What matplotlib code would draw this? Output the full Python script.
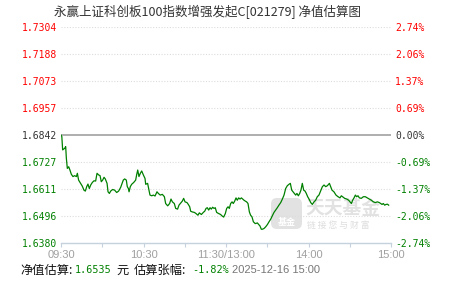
import matplotlib
matplotlib.use("Agg")
import matplotlib.pyplot as plt
from matplotlib.patches import FancyBboxPatch
from matplotlib.transforms import Affine2D

# ---------------- data ----------------
title = "永赢上证科创板100指数增强发起C[021279] 净值估算图"
base_nav = 1.6842
nav_ticks = [1.6380, 1.6496, 1.6611, 1.6727, 1.6842, 1.6957, 1.7073, 1.7188, 1.7304]
pct_labels = ["-2.74%", "-2.06%", "-1.37%", "-0.69%", "0.00%", "0.69%", "1.37%", "2.06%", "2.74%"]
time_ticks = [0, 60, 120, 180, 240]
time_minor = [30, 90, 150, 210]
time_labels = ["09:30", "10:30", "11:30/13:00", "14:00", "15:00"]

minutes = [
    0, 0.6, 1.2, 2.7, 3.4, 3.9, 4.6, 5.6, 6.5, 7.5,
    8.7, 9.9, 11.2, 11.9, 12.8, 14.3, 15.5, 16.7, 17.7, 18.7,
    19.6, 20.6, 21.6, 22.8, 24.0, 25.2, 26.2, 27.4, 28.4, 29.3,
    30.3, 31.3, 32.2, 33.5, 34.2, 35.2, 36.1, 37.6, 39.0, 40.5,
    41.9, 43.4, 44.4, 45.3, 46.3, 47.5, 48.2, 49.0, 49.5, 50.4,
    51.4, 52.9, 54.3, 55.0, 55.8, 56.7, 57.7, 58.7, 59.9, 61.1,
    61.6, 63.0, 64.0, 64.7, 66.0, 67.2, 68.4, 69.8, 70.8, 72.2,
    73.7, 75.2, 76.1, 77.6, 79.0, 80.0, 81.0, 82.4, 83.4, 84.8,
    85.8, 86.8, 88.2, 89.2, 90.2, 91.6, 92.6, 93.6, 94.3, 95.5,
    97.0, 98.2, 99.6, 100.6, 102.1, 103.5, 104.5, 105.5, 106.4, 107.4,
    108.4, 109.3, 110.3, 111.3, 112.2, 113.2, 114.7, 116.1, 117.1, 118.3,
    119.5, 120.5, 121.5, 122.4, 123.4, 124.4, 125.3, 126.3, 127.3, 128.2,
    129.2, 130.2, 131.2, 132.1, 133.1, 134.1, 135.0, 136.0, 137.0, 137.9,
    138.9, 139.9, 141.3, 142.8, 143.8, 144.7, 145.7, 146.4, 147.6, 148.8,
    150.1, 151.3, 152.5, 153.7, 154.9, 156.1, 157.3, 158.5, 159.8, 161.0,
    162.2, 163.4, 164.6, 165.8, 166.8, 167.8, 168.7, 169.7, 170.7, 171.6,
    172.6, 173.6, 174.5, 175.5, 176.5, 177.5, 178.4, 179.4, 180.4, 181.6,
    182.8, 184.0, 185.2, 186.4, 187.6, 188.8, 190.1, 191.3, 192.5, 193.7,
    195.2, 196.1, 197.1, 198.5, 200.0, 201.5, 202.9, 203.9, 204.8, 206.3,
    207.8, 209.2, 210.2, 211.2, 212.1, 213.1, 214.1, 215.0, 216.0, 217.0,
    218.4, 219.9, 221.3, 222.8, 224.2, 225.7, 227.2, 228.6, 230.1, 231.5,
    232.5, 233.5, 234.4, 235.4, 236.4, 237.4, 238.3,
]
nav = [
    1.6842, 1.6836, 1.6779, 1.6786, 1.6793, 1.6743, 1.6700, 1.6707, 1.6693, 1.6675,
    1.6665, 1.6669, 1.6665, 1.6679, 1.6650, 1.6636, 1.6624, 1.6607, 1.6603, 1.6622,
    1.6633, 1.6614, 1.6629, 1.6640, 1.6647, 1.6646, 1.6679, 1.6672, 1.6669, 1.6643,
    1.6650, 1.6662, 1.6655, 1.6636, 1.6600, 1.6593, 1.6603, 1.6610, 1.6607, 1.6597,
    1.6603, 1.6619, 1.6636, 1.6650, 1.6655, 1.6650, 1.6622, 1.6614, 1.6600, 1.6622,
    1.6632, 1.6640, 1.6650, 1.6672, 1.6693, 1.6665, 1.6679, 1.6689, 1.6672, 1.6657,
    1.6632, 1.6636, 1.6607, 1.6586, 1.6583, 1.6586, 1.6582, 1.6600, 1.6593, 1.6586,
    1.6589, 1.6579, 1.6550, 1.6540, 1.6550, 1.6569, 1.6557, 1.6550, 1.6529, 1.6526,
    1.6543, 1.6550, 1.6560, 1.6572, 1.6557, 1.6554, 1.6546, 1.6536, 1.6517, 1.6514,
    1.6512, 1.6507, 1.6500, 1.6510, 1.6503, 1.6512, 1.6517, 1.6529, 1.6532, 1.6522,
    1.6532, 1.6526, 1.6534, 1.6529, 1.6532, 1.6512, 1.6507, 1.6503, 1.6497, 1.6492,
    1.6507, 1.6529, 1.6536, 1.6529, 1.6550, 1.6557, 1.6550, 1.6560, 1.6574, 1.6564,
    1.6574, 1.6569, 1.6574, 1.6569, 1.6564, 1.6560, 1.6557, 1.6550, 1.6514, 1.6500,
    1.6493, 1.6472, 1.6464, 1.6467, 1.6460, 1.6454, 1.6440, 1.6440, 1.6443, 1.6450,
    1.6460, 1.6472, 1.6483, 1.6497, 1.6512, 1.6522, 1.6532, 1.6543, 1.6554, 1.6569,
    1.6586, 1.6614, 1.6626, 1.6632, 1.6636, 1.6607, 1.6600, 1.6593, 1.6586, 1.6593,
    1.6583, 1.6593, 1.6607, 1.6636, 1.6607, 1.6603, 1.6593, 1.6579, 1.6569, 1.6554,
    1.6546, 1.6557, 1.6564, 1.6579, 1.6586, 1.6603, 1.6622, 1.6629, 1.6622, 1.6626,
    1.6636, 1.6622, 1.6607, 1.6600, 1.6586, 1.6579, 1.6574, 1.6583, 1.6579, 1.6572,
    1.6569, 1.6564, 1.6557, 1.6550, 1.6564, 1.6574, 1.6586, 1.6579, 1.6583, 1.6574,
    1.6572, 1.6579, 1.6579, 1.6574, 1.6569, 1.6564, 1.6557, 1.6554, 1.6557, 1.6554,
    1.6550, 1.6546, 1.6550, 1.6543, 1.6546, 1.6547, 1.6543,
]
est_nav = "1.6535"
est_pct = "-1.82%"
est_time = "2025-12-16 15:00"

# ---------------- style ----------------
W, H = 451, 281
RED = "#ff0000"
GREEN = "#008000"
DARK = "#333333"
MONO = "DejaVu Sans Mono"
CJK = ["Noto Sans CJK SC", "DejaVu Sans"]

fig = plt.figure(figsize=(W / 100, H / 100), dpi=100)
fig.patch.set_facecolor("white")
# pixel transform (origin top-left)
px = Affine2D().scale(1.0 / W, -1.0 / H).translate(0, 1) + fig.transFigure

left, right, top, bottom = 61, 391, 27, 243.3
ax = fig.add_axes([left / W, 1 - bottom / H, (right - left) / W, (bottom - top) / H])
ax.set_xlim(0, 240)
ax.set_ylim(nav_ticks[0], nav_ticks[-1])
for s in ["left", "right", "top"]:
    ax.spines[s].set_visible(False)
ax.spines["bottom"].set_color("#c5d2de")
ax.spines["bottom"].set_linewidth(1.0)

# grid
for v in nav_ticks[1:]:
    if abs(v - base_nav) < 1e-6:
        ax.axhline(v, color="#999999", lw=1.1, zorder=1)
    else:
        ax.axhline(v, color="#dddddd", lw=0.8, ls=(0, (1, 1.5)), zorder=1)

# watermark
wm = "#e2e2e2"
ax.add_patch(FancyBboxPatch((271, 198), 31, 31, boxstyle="round,pad=0,rounding_size=6",
                            transform=px, facecolor=wm, edgecolor="none", zorder=0.5, clip_on=False))
ax.text(286.5, 222, "基金", transform=px, family=CJK, fontsize=6.5, color="white",
        ha="center", va="center", fontweight="bold", zorder=0.6, clip_on=False)
ax.text(305, 208, "天天基金", transform=px, family=CJK, fontsize=13.5, color=wm,
        ha="left", va="center", fontweight="bold", zorder=0.6, clip_on=False)
ax.text(307, 225, "链 接 您 与 财 富", transform=px, family=CJK, fontsize=6.3, color="#dddddd",
        ha="left", va="center", zorder=0.6, clip_on=False)

# line
ax.plot(minutes, nav, color=GREEN, lw=0.9, zorder=3)

# y ticks left
ax.set_yticks(nav_ticks)
ax.set_yticklabels([f"{v:.4f}" for v in nav_ticks], family=MONO, fontsize=7)
ax.tick_params(axis="y", length=0, pad=3)
for v, lab in zip(nav_ticks, ax.get_yticklabels()):
    lab.set_color(RED if v > base_nav + 1e-6 else (GREEN if v < base_nav - 1e-6 else DARK))

# right axis
ax2 = ax.twinx()
ax2.set_ylim(ax.get_ylim())
for s in ["left", "right", "top", "bottom"]:
    ax2.spines[s].set_visible(False)
ax2.set_yticks(nav_ticks)
ax2.set_yticklabels(pct_labels, family=MONO, fontsize=7)
ax2.tick_params(axis="y", length=0, pad=3)
for v, lab in zip(nav_ticks, ax2.get_yticklabels()):
    lab.set_color(RED if v > base_nav + 1e-6 else (GREEN if v < base_nav - 1e-6 else DARK))

# x ticks
ax.set_xticks(time_ticks)
ax.set_xticklabels(time_labels, family="Liberation Sans", fontsize=8, color="#a0a0a0")
ax.set_xticks(time_minor, minor=True)
ax.tick_params(axis="x", which="both", length=3, width=0.8, color="#c5d2de", pad=2)

# title
fig.text(208, 12, title, transform=px, family=CJK, fontsize=9, color=DARK,
         ha="center", va="center")

# bottom info line
yb = 270
fig.text(20, yb, "净值估算:", transform=px, family=CJK, fontsize=8.8, color="#111111", ha="left", va="center")
fig.text(75, yb, est_nav, transform=px, family=MONO, fontsize=7.3, color=GREEN, ha="left", va="center")
fig.text(116, yb, "元", transform=px, family=CJK, fontsize=8.8, color="#111111", ha="left", va="center")
fig.text(134, yb, "估算张幅:", transform=px, family=CJK, fontsize=8.8, color="#111111", ha="left", va="center")
fig.text(192, yb, est_pct, transform=px, family=MONO, fontsize=7.3, color=GREEN, ha="left", va="center")
fig.text(232, yb, est_time, transform=px, family="Liberation Sans", fontsize=8, color="#777777", ha="left", va="center")

fig.savefig("out.png", dpi=100, facecolor="white")
